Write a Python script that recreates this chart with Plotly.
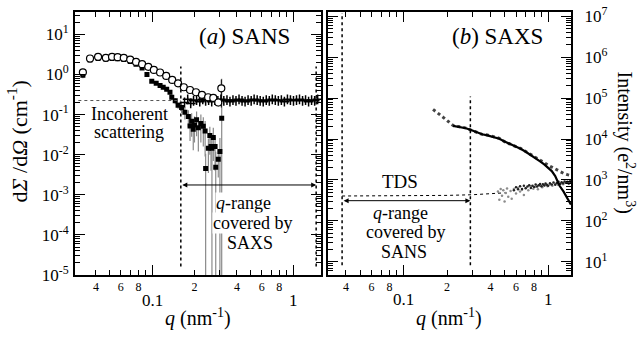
import math
import plotly.graph_objects as go

# ---------------- Panel (a) SANS data ----------------
q_circ = [0.0323, 0.0363, 0.0414, 0.047, 0.052, 0.057, 0.063, 0.070, 0.077, 0.085, 0.094,
          0.103, 0.114, 0.126, 0.139, 0.153, 0.168, 0.186, 0.205, 0.226, 0.25, 0.272, 0.295, 0.31]
I_circ = [1.13, 2.5, 2.75, 2.6, 2.75, 2.7, 2.6, 2.35, 2.05, 1.8, 1.55,
          1.3, 1.12, 0.92, 0.73, 0.6, 0.48, 0.41, 0.36, 0.31, 0.27, 0.26, 0.2, 0.45]
e_circ = [0.25, 0.12, 0.1, 0.1, 0.1, 0.1, 0.1, 0.08, 0.07, 0.06, 0.05,
          0.04, 0.04, 0.03, 0.03, 0.02, 0.02, 0.02, 0.02, 0.02, 0.02, 0.03, 0.04, 0.3]

q_sq = [0.0323, 0.0363, 0.0414, 0.047, 0.052, 0.057, 0.063, 0.070, 0.077, 0.085, 0.092,
        0.0995, 0.107, 0.114, 0.120, 0.127, 0.134, 0.138, 0.146, 0.153, 0.162, 0.171, 0.181,
        0.186, 0.191, 0.196, 0.200, 0.207, 0.213, 0.222, 0.231, 0.238, 0.240, 0.251, 0.257,
        0.262, 0.266, 0.272, 0.280, 0.283, 0.295, 0.303, 0.312]
I_sq = [0.95, 2.3, 2.5, 2.4, 2.5, 2.45, 2.35, 2.1, 1.8, 1.45, 1.0,
        0.68, 0.6, 0.53, 0.48, 0.43, 0.36, 0.27, 0.22, 0.17, 0.15, 0.115, 0.089,
        0.052, 0.068, 0.043, 0.055, 0.074, 0.047, 0.060, 0.051, 0.039, 0.0045, 0.0145, 0.030,
        0.016, 0.0145, 0.027, 0.016, 0.0049, 0.0077, 0.012, 0.081]
e_sq = [0.15, 0.2, 0.2, 0.2, 0.2, 0.2, 0.15, 0.15, 0.12, 0.1, 0.08,
        0.06, 0.05, 0.05, 0.05, 0.05, 0.05, 0.04, 0.04, 0.03, 0.04, 0.04, 0.04,
        0.03, 0.04, 0.03, 0.035, 0.045, 0.035, 0.04, 0.035, 0.03, 0.006, 0.011, 0.02,
        0.012, 0.016, 0.02, 0.012, 0.007, 0.005, 0.014, 0.7]

q_cross = [0.170, 0.179, 0.188, 0.197, 0.207, 0.218, 0.229, 0.240, 0.252, 0.265, 0.279, 0.293,
           0.308, 0.323, 0.340, 0.357, 0.375, 0.394, 0.414, 0.435, 0.457, 0.480, 0.505, 0.530,
           0.557, 0.585, 0.615, 0.646, 0.679, 0.713, 0.749, 0.787, 0.827, 0.869, 0.913, 0.959,
           1.008, 1.059, 1.112, 1.169, 1.228, 1.290, 1.355, 1.424, 1.496]
I_cross = [0.20, 0.24, 0.19, 0.22, 0.23, 0.21, 0.24, 0.22, 0.23, 0.21, 0.23, 0.22,
           0.24, 0.22, 0.23, 0.21, 0.23, 0.22, 0.24, 0.22, 0.21, 0.23, 0.22, 0.24,
           0.23, 0.22, 0.21, 0.23, 0.22, 0.24, 0.23, 0.22, 0.23, 0.21, 0.24, 0.23,
           0.22, 0.23, 0.24, 0.22, 0.23, 0.21, 0.23, 0.22, 0.24]
e_cross = [0.03, 0.03, 0.03, 0.03, 0.02, 0.02, 0.02, 0.02, 0.02, 0.02, 0.02, 0.02,
           0.02, 0.02, 0.02, 0.02, 0.02, 0.02, 0.02, 0.02, 0.02, 0.02, 0.02, 0.02,
           0.02, 0.02, 0.02, 0.02, 0.02, 0.02, 0.02, 0.02, 0.02, 0.02, 0.02, 0.02,
           0.02, 0.02, 0.02, 0.02, 0.02, 0.02, 0.02, 0.02, 0.02]

incoh_level = 0.224
incoh_q = [0.03, 0.16]
saxs_range = [0.16, 1.46]
saxs_arrow_level = 0.00176
saxs_line_y = [1.63e-5, 1.58]

# ---------------- Panel (b) SAXS data ----------------
q_A = [0.16, 0.17, 0.18, 0.19, 0.20, 0.21, 0.22, 0.235, 0.25, 0.27, 0.29, 0.32, 0.35, 0.38,
       0.42, 0.46, 0.50, 0.55, 0.60, 0.65, 0.70, 0.76, 0.82, 0.88, 0.94, 1.00, 1.06, 1.12,
       1.20, 1.28, 1.36, 1.44]
I_A = [53000, 45500, 39000, 33000, 28500, 25000, 21500, 20200, 19800, 18500, 17000, 14800,
       13000, 12600, 11200, 10400, 8600, 7600, 6500, 5800, 5000, 4200, 3550, 3050, 2650, 2300,
       2050, 1820, 1600, 1450, 1350, 1280]

q_B = [0.22, 0.235, 0.25, 0.27, 0.29, 0.32, 0.35, 0.38, 0.42, 0.46, 0.50, 0.55, 0.60, 0.65,
       0.70, 0.76, 0.82, 0.88, 0.94, 1.00, 1.06, 1.12, 1.20, 1.28, 1.36, 1.44]
I_B = [21000, 20000, 19600, 18300, 16800, 14600, 13100, 12300, 11300, 10200, 8700, 7500,
       6600, 5700, 4900, 4100, 3450, 2850, 2400, 2000, 1650, 1250, 720, 520, 360, 250]

q_tds_grey = [0.45, 0.46, 0.47, 0.48, 0.49, 0.50, 0.51, 0.52, 0.53, 0.55, 0.56, 0.58, 0.60,
              0.62, 0.64, 0.66, 0.68, 0.70, 0.73, 0.76, 0.79, 0.82, 0.85, 0.88, 0.91, 0.95,
              0.99, 1.03, 1.07, 1.12, 1.17, 1.22, 1.27, 1.33, 1.39, 1.44]
I_tds_grey = [520, 330, 600, 410, 560, 300, 480, 620, 390, 540, 350, 600, 470, 650, 520, 580,
              430, 640, 560, 700, 610, 680, 590, 720, 660, 740, 700, 780, 720, 800, 760, 820,
              790, 850, 830, 880]

q_tds_black = [0.58, 0.60, 0.62, 0.64, 0.66, 0.68, 0.70, 0.72, 0.74, 0.76, 0.78, 0.80, 0.82,
               0.84, 0.86, 0.88, 0.90, 0.92, 0.94, 0.96, 0.98, 1.00, 1.03, 1.06, 1.09, 1.12,
               1.15, 1.18, 1.21, 1.24, 1.27, 1.30, 1.33, 1.36, 1.39, 1.42, 1.44]
I_tds_black = [560, 660, 590, 700, 600, 720, 630, 690, 740, 640, 720, 670, 770, 690, 740, 800,
               700, 790, 730, 820, 760, 720, 830, 780, 870, 760, 840, 900, 800, 880, 830, 920,
               850, 900, 820, 930, 880]

q_tds_fit = [0.0376, 0.1, 0.2, 0.3, 0.4, 0.5]
I_tds_fit = [406, 410, 420, 436, 458, 485]

sans_range = [0.0376, 0.29]
sans_arrow_level = 312
sans_line_left_y = [8.2, 1.2e7]
sans_line_right_y = [8.2, 1.1e5]

# ---------------- axis tick definitions ----------------
x_small_vals = [0.04, 0.05, 0.06, 0.07, 0.08, 0.09, 0.2, 0.3, 0.4, 0.5, 0.6, 0.7, 0.8, 0.9]
x_small_text = ["4", "", "6", "", "8", "", "2", "", "4", "", "6", "", "8", ""]
x_major_vals = [0.1, 1]
x_major_text = ["0.1", "1"]

yA_vals = [1e-5, 1e-4, 1e-3, 1e-2, 1e-1, 1, 10]
yA_text = ["10<sup>-5</sup>", "10<sup>-4</sup>", "10<sup>-3</sup>", "10<sup>-2</sup>",
           "10<sup>-1</sup>", "10<sup>0</sup>", "10<sup>1</sup>"]
yB_vals = [10, 1e2, 1e3, 1e4, 1e5, 1e6, 1e7]
yB_text = ["10<sup>1</sup>", "10<sup>2</sup>", "10<sup>3</sup>", "10<sup>4</sup>",
           "10<sup>5</sup>", "10<sup>6</sup>", "10<sup>7</sup>"]


def minor_list(e0, e1):
    return [m * 10 ** e for e in range(e0, e1 + 1) for m in range(2, 10)]


FONT = "Liberation Serif, Times New Roman, serif"
W, H = 640, 340
# plot-area pixel geometry
L_X0, L_X1 = 75, 321
R_X0, R_X1 = 327.5, 571
Y_TOP, Y_BOT = 4.5, 282


def px(x):
    return x / W


def py(y):
    return 1 - y / H


fig = go.Figure()

# ----- panel (a) traces -----
fig.add_trace(go.Scatter(x=q_sq, y=I_sq, mode="markers", xaxis="x", yaxis="y",
                         marker=dict(symbol="square", size=5, color="black"),
                         error_y=dict(type="data", array=e_sq, color="#8a8a8a", thickness=1.2, width=0)))
fig.add_trace(go.Scatter(x=q_cross, y=I_cross, mode="markers", xaxis="x", yaxis="y",
                         marker=dict(symbol="cross-thin", size=7, line=dict(color="black", width=1.5)),
                         error_y=dict(type="data", array=e_cross, color="black", thickness=1, width=0)))
fig.add_trace(go.Scatter(x=q_circ, y=I_circ, mode="markers", xaxis="x", yaxis="y",
                         marker=dict(symbol="circle", size=7, color="white", line=dict(color="black", width=1.2)),
                         error_y=dict(type="data", array=e_circ, color="black", thickness=1, width=0)))
# incoherent level and SAXS range lines
fig.add_trace(go.Scatter(x=incoh_q, y=[incoh_level, incoh_level], mode="lines", xaxis="x", yaxis="y",
                         line=dict(color="#555", width=1, dash="dot")))
for v in saxs_range:
    fig.add_trace(go.Scatter(x=[v, v], y=saxs_line_y, mode="lines", xaxis="x", yaxis="y",
                             line=dict(color="black", width=1.5, dash="dot")))

# ----- panel (b) traces -----
fig.add_trace(go.Scatter(x=q_tds_grey, y=I_tds_grey, mode="markers", xaxis="x2", yaxis="y2",
                         marker=dict(symbol="circle", size=2.5, color="#8c8c8c")))
fig.add_trace(go.Scatter(x=q_tds_black, y=I_tds_black, mode="markers", xaxis="x2", yaxis="y2",
                         marker=dict(symbol="circle", size=2.5, color="#222")))
fig.add_trace(go.Scatter(x=q_tds_fit, y=I_tds_fit, mode="lines", xaxis="x2", yaxis="y2",
                         line=dict(color="black", width=1, dash="dot")))
fig.add_trace(go.Scatter(x=q_A, y=I_A, mode="lines", xaxis="x2", yaxis="y2",
                         line=dict(color="#444", width=3, dash="dot")))
fig.add_trace(go.Scatter(x=q_B, y=I_B, mode="lines", xaxis="x2", yaxis="y2",
                         line=dict(color="black", width=2.2)))
fig.add_trace(go.Scatter(x=[sans_range[0]] * 2, y=sans_line_left_y, mode="lines", xaxis="x2", yaxis="y2",
                         line=dict(color="black", width=1.5, dash="dot")))
fig.add_trace(go.Scatter(x=[sans_range[1]] * 2, y=sans_line_right_y, mode="lines", xaxis="x2", yaxis="y2",
                         line=dict(color="black", width=1.5, dash="dot")))

axis_common = dict(type="log", showgrid=False, zeroline=False, showline=True, linewidth=2,
                   linecolor="black", mirror="allticks", ticks="inside", tickcolor="black",
                   tickwidth=1, ticklabeloverflow="allow")

xcommon = dict(axis_common, tickmode="array", tickvals=x_small_vals, ticktext=x_small_text,
               ticklen=5, tickfont=dict(family=FONT, size=12, color="black"),
               minor=dict(tickmode="array", tickvals=x_major_vals, ticks="inside", ticklen=10,
                          tickcolor="black", tickwidth=1, showgrid=False))

fig.update_layout(
    width=W, height=H, margin=dict(l=0, r=0, t=0, b=0),
    paper_bgcolor="white", plot_bgcolor="white", showlegend=False,
    font=dict(family=FONT, color="black"),
    xaxis=dict(xcommon, domain=[px(L_X0), px(L_X1)], anchor="y",
               range=[math.log10(0.0284), math.log10(1.58)]),
    yaxis=dict(axis_common, domain=[py(Y_BOT), py(Y_TOP)], anchor="x",
               range=[-5, 1.55], tickmode="array", tickvals=yA_vals, ticktext=yA_text,
               ticklen=10, tickfont=dict(family=FONT, size=17, color="black"),
               ticklabelstandoff=1,
               minor=dict(tickmode="array", tickvals=minor_list(-5, 1), ticks="inside", ticklen=5,
                          tickcolor="black", tickwidth=1, showgrid=False)),
    xaxis2=dict(xcommon, domain=[px(R_X0), px(R_X1)], anchor="y2",
                range=[math.log10(0.0298), math.log10(1.44)]),
    yaxis2=dict(axis_common, domain=[py(Y_BOT), py(Y_TOP)], anchor="x2", side="right",
                range=[0.677, 7.097], tickmode="array", tickvals=yB_vals, ticktext=yB_text,
                ticklen=10, tickfont=dict(family=FONT, size=17, color="black"),
                ticklabelstandoff=8,
                minor=dict(tickmode="array", tickvals=minor_list(0, 6), ticks="inside", ticklen=5,
                           tickcolor="black", tickwidth=1, showgrid=False)),
)

ann = []


def txt(text, x, y, size, bg=None, xanchor="center", angle=0):
    d = dict(text=text, x=px(x), y=py(y), xref="paper", yref="paper", showarrow=False,
             xanchor=xanchor, yanchor="middle", textangle=angle,
             font=dict(family=FONT, size=size, color="black"))
    if bg:
        d["bgcolor"] = bg
        d["borderpad"] = 0
    ann.append(d)


# big x tick labels
for xv, t in zip(x_major_vals, x_major_text):
    ann.append(dict(text=t, x=math.log10(xv), y=py(309), xref="x", yref="paper", showarrow=False,
                    xanchor="center", yanchor="middle", font=dict(family=FONT, size=17, color="black")))
    ann.append(dict(text=t, x=math.log10(xv), y=py(308), xref="x2", yref="paper", showarrow=False,
                    xanchor="center", yanchor="middle", font=dict(family=FONT, size=17, color="black")))

# panel labels and notes
txt("(<i>a</i>) SANS", 244, 30, 23)
txt("(<i>b</i>) SAXS", 497, 30, 23)
txt("Incoherent", 129, 112, 18)
txt("scattering", 129, 131, 18)
txt("<i>q</i>-range", 243, 206, 18, bg="white")
txt("covered by", 252, 227, 18, bg="white")
txt("SAXS", 250, 248, 18, bg="white")
txt("TDS", 400, 183, 19)
txt("<i>q</i>-range", 400, 216, 18)
txt("covered by", 405, 237, 18)
txt("SANS", 404, 258, 18)
# axis titles
txt("<i>q</i> (nm<sup>-1</sup>)", 198, 327, 20)
txt("<i>q</i> (nm<sup>-1</sup>)", 449, 327, 20)
txt("d<i>Σ</i> /d<i>Ω</i> (cm<sup>-1</sup>)", 17, 141, 22, angle=-90)
txt("Intensity (e<sup>2</sup>/nm<sup>3</sup>)", 626, 142, 20, angle=90)

# double arrows for q ranges
ann.append(dict(x=math.log10(saxs_range[1]), y=math.log10(saxs_arrow_level),
                ax=math.log10(saxs_range[0]), ay=math.log10(saxs_arrow_level),
                xref="x", yref="y", axref="x", ayref="y", text="", showarrow=True,
                arrowhead=2, arrowside="end+start", arrowsize=1, arrowwidth=1, arrowcolor="black",
                standoff=0, startstandoff=0))
ann.append(dict(x=math.log10(sans_range[1]), y=math.log10(sans_arrow_level),
                ax=math.log10(sans_range[0]), ay=math.log10(sans_arrow_level),
                xref="x2", yref="y2", axref="x2", ayref="y2", text="", showarrow=True,
                arrowhead=2, arrowside="end+start", arrowsize=1, arrowwidth=1, arrowcolor="black",
                standoff=0, startstandoff=0))

fig.update_layout(annotations=ann)
fig.write_html("out.html", config={"displayModeBar": False},
               post_script="document.body.style.margin='0';")
